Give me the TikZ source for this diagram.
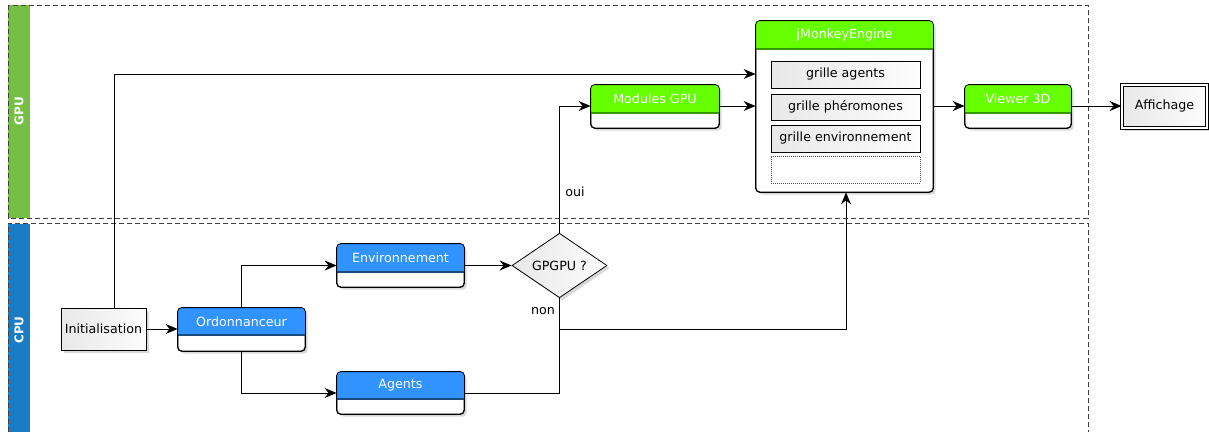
\documentclass[tikz,border=0pt]{standalone}
\usepackage{fontspec}
\setmainfont{DejaVu Sans}
\usetikzlibrary{arrows.meta,shapes.geometric,shadows,fit,calc}
\definecolor{lanegreen}{HTML}{76BF44}
\definecolor{laneblue}{HTML}{1A7DC4}
\definecolor{hdrblue}{HTML}{3093FF}
\definecolor{divblue}{HTML}{1A4B80}
\definecolor{hdrgreen}{HTML}{66FF00}
\definecolor{divgreen}{HTML}{339900}
\tikzset{
  lane/.style={draw=black!75, dash pattern=on 4pt off 2pt, line width=0.7pt},
  cardbox/.style={draw, fill=white, rounded corners=3pt, inner sep=0pt, line width=0.6pt,
    drop shadow={shadow xshift=2pt, shadow yshift=-2pt, opacity=0.3}},
  hdrtext/.style={text=white, font=\fontsize{9.5}{11}\selectfont, inner sep=0pt},
  graybox/.style={draw, line width=0.6pt, inner sep=0pt, left color=black!9, right color=black!1,
    font=\fontsize{9.5}{11}\selectfont},
  shadowed/.style={drop shadow={shadow xshift=2pt, shadow yshift=-2pt, opacity=0.3}},
  lbl/.style={font=\fontsize{9.5}{11}\selectfont, inner sep=0pt},
  conn/.style={line width=0.75pt},
  arr/.style={conn, -{Stealth[length=9pt,width=7.5pt,inset=3pt]}},
  lanelbl/.style={text=white, font=\bfseries\fontsize{9}{10}\selectfont, rotate=90, inner sep=0pt}
}
% #1 name, #2 x1, #3 y1, #4 x2, #5 y2, #6 divider y, #7 header colour, #8 divider colour, #9 text
\newcommand\mkcard[9]{%
  \path (#2,#3) coordinate (#1-a) (#4,#5) coordinate (#1-b);
  \node[cardbox, fit=(#1-a)(#1-b)] (#1) {};
  \begin{scope}
    \clip[rounded corners=3pt] (#1.north west) rectangle (#1.south east);
    \fill[#7] (#1.north west) rectangle (#1.east |- 0,#6);
  \end{scope}
  \draw[#8, line width=1pt] (#1.west |- 0,#6) -- (#1.east |- 0,#6);
  \draw[rounded corners=3pt, line width=0.6pt] (#1.north west) rectangle (#1.south east);
  \node[hdrtext] (#1-t) at ($(#1.north)!0.5!(#1.north |- 0,#6)$) {#9};
}
\newcommand\mkbox[6]{%
  \path (#2,#3) coordinate (#1-a) (#4,#5) coordinate (#1-b);
  \node[graybox, fit=(#1-a)(#1-b)] (#1) {};
  \node[lbl] (#1-t) at (#1.center) {#6};
}
\begin{document}
\begin{tikzpicture}[x=0.75pt, y=-0.75pt]
\useasboundingbox (0,0) rectangle (1209,432);
% lanes
\fill[lanegreen] (8,5) rectangle (30,218);
\fill[laneblue] (8,224) rectangle (30,432);
\draw[lane] (8,5) rectangle (1088,218);
\draw[lane] (8,432) -- (8,223) -- (1088,223) -- (1088,432);
\node[lanelbl] (gpulbl) at (19,111) {GPU};
\node[lanelbl] (cpulbl) at (19,330) {CPU};

% nodes
\path (61,308) coordinate (init-a) (146,350) coordinate (init-b);
\node[graybox, shadowed, fit=(init-a)(init-b)] (init) {};
\node[lbl] (init-t) at (init.center) {Initialisation};

\mkcard{ord}{178}{308}{305}{351}{335}{hdrblue}{divblue}{Ordonnanceur}
\mkcard{env}{337}{244}{464}{287}{272}{hdrblue}{divblue}{Environnement}
\mkcard{agt}{337}{372}{464}{414}{399}{hdrblue}{divblue}{Agents}

\node[diamond, draw, line width=0.6pt, inner sep=0pt, minimum width=71.25pt, minimum height=44pt,
  left color=black!9, right color=black!1, shadowed, font=\fontsize{9.5}{11}\selectfont] (gp) at (559.5,265.5) {GPGPU ?};

\mkcard{mod}{591}{85}{719}{128}{113}{hdrgreen}{divgreen}{Modules GPU}
\mkcard{jme}{756}{21}{933}{192}{49}{hdrgreen}{divgreen}{jMonkeyEngine}
\mkbox{g1}{771}{61}{920}{88}{grille agents}
\mkbox{g2}{771}{94}{920}{120}{grille phéromones}
\mkbox{g3}{771}{125}{920}{152}{grille environnement}
\path (771,156) coordinate (g4-a) (920,183) coordinate (g4-b);
\node[draw=black!70, densely dotted, line width=0.5pt, inner sep=0pt, fit=(g4-a)(g4-b)] (g4) {};
\mkcard{view}{965}{85}{1071}{128}{113}{hdrgreen}{divgreen}{Viewer 3D}

\path (1122,85) coordinate (aff-a) (1207,128) coordinate (aff-b);
\node[draw, double=white, double distance=1.6pt, line width=0.6pt, inner sep=0pt,
  left color=black!9, right color=black!1, shadowed, fit=(aff-a)(aff-b)] (aff) {};
\node[lbl] (aff-t) at (aff.center) {Affichage};

% connectors
\draw[arr] (init.north -| 114,0) |- (jme.west |- 0,74);
\draw[arr] (init.east) -- (ord.west |- init.east);
\draw[arr] (ord.north) |- (env.west);
\draw[arr] (ord.south) |- (agt.west);
\draw[arr] (env.east) -- (gp.west);
\draw[arr] (gp.north) |- (mod.west |- 0,106);
\draw[arr] (gp.south) |- (846,329) -- (jme.south -| 846,0);
\draw[conn] (agt.east) -| (gp.south |- 0,329);
\draw[arr] (mod.east |- 0,106) -- (jme.west |- 0,106);
\draw[arr] (jme.east |- 0,106) -- (view.west |- 0,106);
\draw[arr] (view.east |- 0,106) -- (aff.west |- 0,106);

\node[lbl] (oui) at (575,192) {oui};
\node[lbl] (non) at (543,311) {non};
\end{tikzpicture}
\end{document}
